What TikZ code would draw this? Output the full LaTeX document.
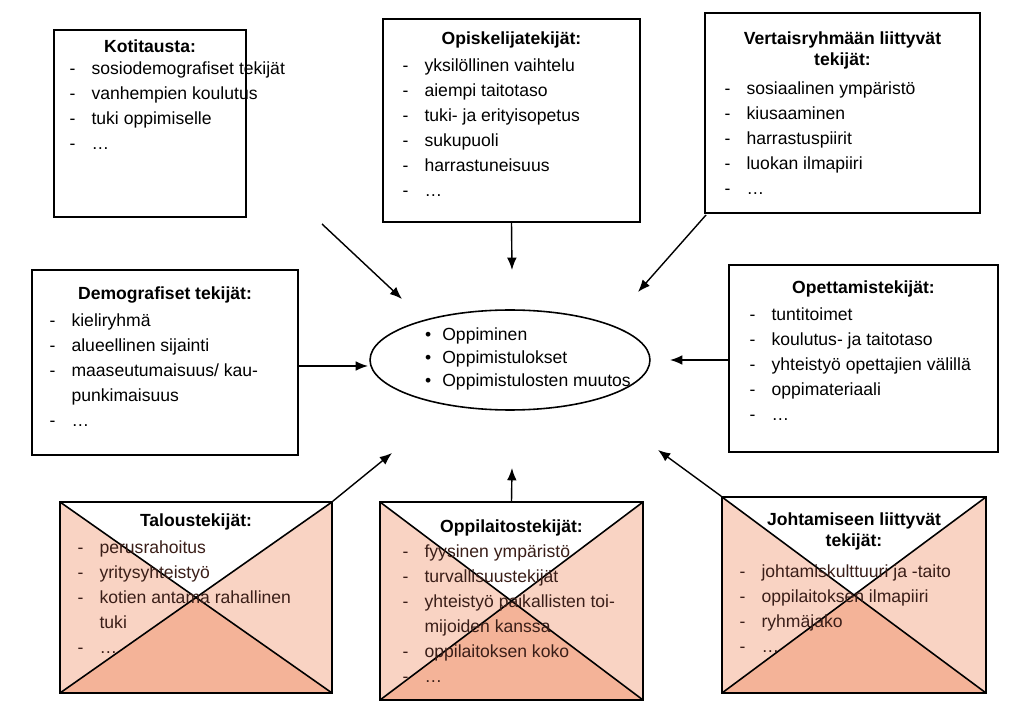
\documentclass[tikz,border=0pt]{standalone}
\usepackage{fontspec}
\setmainfont{Liberation Sans}
\usetikzlibrary{positioning,shapes.geometric,arrows.meta}
\definecolor{envside}{HTML}{F9D3C3}
\definecolor{envbottom}{HTML}{F4B398}
\definecolor{envtext}{HTML}{3A1E18}
\newcommand{\dd}{\makebox[0.44cm][l]{-}}
\newcommand{\ee}{\hspace*{0.44cm}}
\begin{document}
\begin{tikzpicture}[
        x=0.02cm, y=-0.02cm,
        box/.style={draw, line width=0.9pt, inner sep=0pt},
        envelope/.style={box, fill=envside, path picture={
            \fill[envbottom] (path picture bounding box.south west) -- (path picture bounding box.center) -- (path picture bounding box.south east) -- cycle;
            \fill[white] (path picture bounding box.north west) -- (path picture bounding box.center) -- (path picture bounding box.north east) -- cycle;
            \draw[line width=0.9pt] (path picture bounding box.north west) -- (path picture bounding box.south east);
            \draw[line width=0.9pt] (path picture bounding box.north east) -- (path picture bounding box.south west);
        }},
        title/.style={inner sep=0pt, font=\fontsize{10}{12.3}\selectfont\bfseries, align=center},
        facts/.style={inner sep=0pt, font=\fontsize{10}{14.2}\selectfont, align=left},
        >={Latex[length=7pt,width=5.5pt]}
    ]
        \useasboundingbox (0,0) rectangle (1024,712);

        % Boxes
        \node[box, minimum width=3.84cm, minimum height=3.74cm] (koti) at (150,123.5) {};
        \node[box, minimum width=5.14cm, minimum height=4.06cm] (opis) at (511.5,120.5) {};
        \node[box, minimum width=5.5cm, minimum height=4cm] (vert) at (842.5,113) {};
        \node[box, minimum width=5.32cm, minimum height=3.7cm] (demo) at (165,362.5) {};
        \node[box, minimum width=5.38cm, minimum height=3.74cm] (opet) at (863.5,358.5) {};
        \node[envelope, minimum width=5.44cm, minimum height=3.82cm] (talous) at (196,597.5) {};
        \node[envelope, minimum width=5.26cm, minimum height=3.96cm] (oppil) at (511.5,601) {};
        \node[envelope, minimum width=5.28cm, minimum height=3.92cm] (johto) at (854,595) {};

        % Titles
        \node[title, below=0.2cm of koti.north] (kotiT) {Kotitausta:};
        \node[title, below=0.26cm of opis.north] (opisT) {Opiskelijatekijät:};
        \node[title, below=0.38cm of vert.north] (vertT) {Vertaisryhmään liittyvät\\tekijät:};
        \node[title, below=0.34cm of demo.north] (demoT) {Demografiset tekijät:};
        \node[title, below=0.32cm of opet.north] (opetT) {Opettamistekijät:};
        \node[title, below=0.24cm of talous.north] (talousT) {Taloustekijät:};
        \node[title, below=0.36cm of oppil.north] (oppilT) {Oppilaitostekijät:};
        \node[title, below=0.32cm of johto.north] (johtoT) {Johtamiseen liittyvät\\tekijät:};

        % Lists
        \node[facts, anchor=north west] (kotiL) at ([shift={(0.32cm,-0.64cm)}]koti.north west)
            {\dd sosiodemografiset tekijät\\\dd vanhempien koulutus\\\dd tuki oppimiselle\\\dd …};
        \node[facts, anchor=north west] (opisL) at ([shift={(0.4cm,-0.8cm)}]opis.north west)
            {\dd yksilöllinen vaihtelu\\\dd aiempi taitotaso\\\dd tuki- ja erityisopetus\\\dd sukupuoli\\\dd harrastuneisuus\\\dd …};
        \node[facts, anchor=north west] (vertL) at ([shift={(0.4cm,-1.38cm)}]vert.north west)
            {\dd sosiaalinen ympäristö\\\dd kiusaaminen\\\dd harrastuspiirit\\\dd luokan ilmapiiri\\\dd …};
        \node[facts, anchor=north west] (demoL) at ([shift={(0.36cm,-0.88cm)}]demo.north west)
            {\dd kieliryhmä\\\dd alueellinen sijainti\\\dd maaseutumaisuus/ kau-\\\ee punkimaisuus\\\dd …};
        \node[facts, anchor=north west] (opetL) at ([shift={(0.42cm,-0.86cm)}]opet.north west)
            {\dd tuntitoimet\\\dd koulutus- ja taitotaso\\\dd yhteistyö opettajien välillä\\\dd oppimateriaali\\\dd …};
        \node[facts, text=envtext, anchor=north west] (talousL) at ([shift={(0.36cm,-0.78cm)}]talous.north west)
            {\dd perusrahoitus\\\dd yritysyhteistyö\\\dd kotien antama rahallinen\\\ee tuki\\\dd …};
        \node[facts, text=envtext, anchor=north west] (oppilL) at ([shift={(0.46cm,-0.86cm)}]oppil.north west)
            {\dd fyysinen ympäristö\\\dd turvallisuustekijät\\\dd yhteistyö paikallisten toi-\\\ee mijoiden kanssa\\\dd oppilaitoksen koko\\\dd …};
        \node[facts, text=envtext, anchor=north west] (johtoL) at ([shift={(0.36cm,-1.36cm)}]johto.north west)
            {\dd johtamiskulttuuri ja -taito\\\dd oppilaitoksen ilmapiiri\\\dd ryhmäjako\\\dd …};

        % Centre
        \node[draw, ellipse, line width=0.9pt, minimum width=5.6cm, minimum height=2cm] (centre) at (510,360) {};
        \node[facts, font=\fontsize{10}{13.2}\selectfont] (centreL) at (528,359)
            {\textbullet\hspace{0.22cm}Oppiminen\\\textbullet\hspace{0.22cm}Oppimistulokset\\\textbullet\hspace{0.22cm}Oppimistulosten muutos};

        % Arrow ends
        \coordinate (a1) at (322,224); \coordinate (b1) at (402,299);
        \coordinate (b2) at (512,270);
        \coordinate (a3) at (706,215); \coordinate (b3) at (638,292);
        \coordinate (b4) at (368,366);
        \coordinate (b5) at (670,360);
        \coordinate (b6) at (392,453);
        \coordinate (b7) at (512,468);
        \coordinate (b8) at (658,450);

        % Arrows
        \draw[->, line width=0.8pt] (a1) -- (b1);
        \draw[->, line width=0.8pt] (opis.south) -- (b2);
        \draw[->, line width=0.8pt] (a3) -- (b3);
        \draw[->, line width=0.8pt] (demo.east |- b4) -- (b4);
        \draw[->, line width=0.8pt] (opet.west |- b5) -- (b5);
        \draw[->, line width=0.8pt] (talous.north east) -- (b6);
        \draw[->, line width=0.8pt] (oppil.north) -- (b7);
        \draw[->, line width=0.8pt] (johto.north west) -- (b8);
    \end{tikzpicture}
\end{document}
